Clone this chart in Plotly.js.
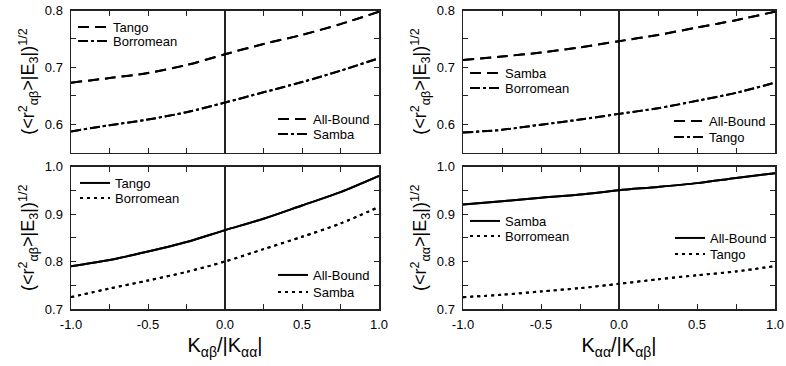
<!DOCTYPE html>
<html><head><meta charset="utf-8">
<script src="https://cdn.plot.ly/plotly-3.0.1.min.js"></script>
<style>body{margin:0;background:#fff}#chart{width:786px;height:366px}</style>
</head><body><div id="chart"></div>
<script>
// ---- data ----
const kValues = [-1, -0.75, -0.5, -0.25, 0, 0.25, 0.5, 0.75, 1];
const kTickVals = [-1, -0.5, 0, 0.5, 1];
const kTickText = ['-1.0', '-0.5', '0.0', '0.5', '1.0'];
// top-left panel
const aDashed  = [0.673, 0.681, 0.690, 0.704, 0.723, 0.741, 0.757, 0.776, 0.798];
const aDashDot = [0.587, 0.598, 0.608, 0.621, 0.638, 0.656, 0.674, 0.694, 0.716];
const aLabels  = ['Tango', 'Borromean', 'All-Bound', 'Samba'];
// top-right panel
const bDashed  = [0.713, 0.719, 0.726, 0.735, 0.746, 0.757, 0.770, 0.783, 0.798];
const bDashDot = [0.585, 0.590, 0.599, 0.608, 0.618, 0.628, 0.641, 0.655, 0.673];
const bLabels  = ['Samba', 'Borromean', 'All-Bound', 'Tango'];
// bottom-left panel
const cSolid   = [0.790, 0.803, 0.821, 0.841, 0.866, 0.890, 0.918, 0.946, 0.980];
const cDotted  = [0.725, 0.743, 0.760, 0.778, 0.800, 0.826, 0.852, 0.880, 0.915];
const cLabels  = ['Tango', 'Borromean', 'All-Bound', 'Samba'];
// bottom-right panel
const dSolid   = [0.920, 0.927, 0.934, 0.941, 0.950, 0.957, 0.965, 0.976, 0.986];
const dDotted  = [0.725, 0.730, 0.737, 0.744, 0.753, 0.7625, 0.771, 0.779, 0.7905];
const dLabels  = ['Samba', 'Borromean', 'All-Bound', 'Tango'];

const xTitleLeft  = 'K<sub>αβ</sub>/|K<sub>αα</sub>|';
const xTitleRight = 'K<sub>αα</sub>/|K<sub>αβ</sub>|';
const yTitleAB = '(&lt;r<sup>2</sup><sub>αβ</sub>&gt;|E<sub>3</sub>|)<sup>1/2</sup>';
const yTitleAA = '(&lt;r<sup>2</sup><sub>αα</sub>&gt;|E<sub>3</sub>|)<sup>1/2</sup>';

// ---- styling / layout ----
const W = 786, H = 366;
const FONT = 'Liberation Sans, Arial, sans-serif';
const DASH = '11px,6px', DASHDOT = '10px,3px,3px,3px', DOT = '3px,4px';

const panels = [
  {ax: '', y1: aDashed, y2: aDashDot, st: [DASH, DASHDOT], labels: aLabels,
   leg: [[78, 27], [78, 41], [278, 119], [278, 134]]},
  {ax: '2', y1: bDashed, y2: bDashDot, st: [DASH, DASHDOT], labels: bLabels,
   leg: [[470, 73], [470, 88], [674, 121], [674, 137]]},
  {ax: '3', y1: cSolid, y2: cDotted, st: ['solid', DOT], labels: cLabels,
   leg: [[80, 183], [80, 198], [278, 275], [278, 292]]},
  {ax: '4', y1: dSolid, y2: dDotted, st: ['solid', DOT], labels: dLabels,
   leg: [[470, 221], [470, 236], [675, 238], [675, 254]]}
];

const traces = [];
const layout = {
  width: W, height: H, margin: {l: 0, r: 0, t: 0, b: 0},
  paper_bgcolor: '#fff', plot_bgcolor: '#fff',
  font: {family: FONT, color: '#000', size: 13}
};

let legN = 0;
panels.forEach(p => {
  const series = [p.y1, p.y2, p.y1, p.y2];
  series.forEach((ys, i) => {
    legN++;
    const legKey = legN === 1 ? 'legend' : 'legend' + legN;
    traces.push({
      type: 'scatter', mode: 'lines', x: kValues, y: ys,
      name: p.labels[i], xaxis: 'x' + p.ax, yaxis: 'y' + p.ax,
      legend: legKey, showlegend: true,
      line: {color: '#000', width: 2, dash: p.st[i % 2], shape: 'spline', smoothing: 0.8},
      hoverinfo: 'skip'
    });
    const [lx, ly] = p.leg[i];
    layout[legKey] = {
      x: (lx - 5) / W, y: 1 - ly / H, xanchor: 'left', yanchor: 'middle',
      bgcolor: 'rgba(0,0,0,0)', borderwidth: 0,
      font: {family: FONT, size: 13, color: '#000'}, itemwidth: 30
    };
  });
});

const xDomL = [71 / W, 379 / W], xDomR = [463 / W, 775 / W];
const yDomT = [1 - 152.5 / H, 1 - 10.5 / H], yDomB = [1 - 309 / H, 1 - 166.5 / H];

function xAxis(dom, anchor, labels, title) {
  return {
    domain: dom, anchor: anchor, range: [-1, 1],
    tickmode: 'array', tickvals: kTickVals, ticktext: kTickText,
    ticks: 'inside', ticklen: 5, tickwidth: 1, tickcolor: '#222',
    minor: {tickmode: 'linear', tick0: 0, dtick: 0.25, ticks: 'inside', ticklen: 5, tickcolor: '#222'},
    showline: true, linecolor: '#222', linewidth: 1.5, mirror: 'ticks',
    showgrid: false, zeroline: true, zerolinecolor: '#222', zerolinewidth: 1.2,
    showticklabels: labels, ticklabelstandoff: 3, tickfont: {size: 13, family: FONT},
    title: labels ? {text: title, font: {size: 20, family: FONT}, standoff: 7} : {text: ''}
  };
}
function yAxis(dom, anchor, range, title) {
  return {
    domain: dom, anchor: anchor, range: range, dtick: 0.1, tick0: 0, tickformat: '.1f',
    ticks: 'inside', ticklen: 5, tickwidth: 1, tickcolor: '#222',
    minor: {dtick: 0.05, ticks: 'inside', ticklen: 5, tickcolor: '#222'},
    showline: true, linecolor: '#222', linewidth: 1.5, mirror: 'ticks',
    showgrid: false, zeroline: false,
    ticklabelstandoff: 4, tickfont: {size: 13, family: FONT},
    title: {text: title, font: {size: 18, family: FONT}, standoff: 5}
  };
}

layout.xaxis  = xAxis(xDomL, 'y',  false, '');
layout.yaxis  = yAxis(yDomT, 'x',  [0.55, 0.8], yTitleAB);
layout.xaxis2 = xAxis(xDomR, 'y2', false, '');
layout.yaxis2 = yAxis(yDomT, 'x2', [0.55, 0.8], yTitleAB);
layout.xaxis3 = xAxis(xDomL, 'y3', true, xTitleLeft);
layout.yaxis3 = yAxis(yDomB, 'x3', [0.7, 1.0], yTitleAB);
layout.xaxis4 = xAxis(xDomR, 'y4', true, xTitleRight);
layout.yaxis4 = yAxis(yDomB, 'x4', [0.7, 1.0], yTitleAA);

Plotly.newPlot('chart', traces, layout, {staticPlot: true, displayModeBar: false});
</script>
</body></html>
